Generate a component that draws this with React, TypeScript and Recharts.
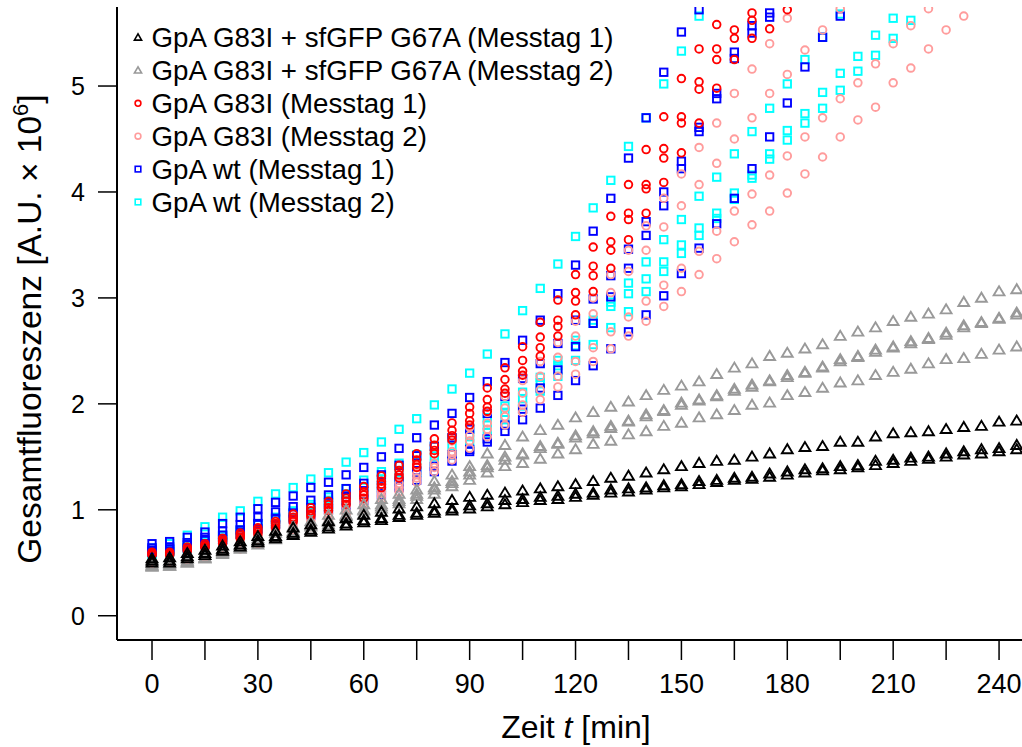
import React from 'react';
import { ScatterChart, Scatter, XAxis, YAxis, Legend } from 'recharts';

const FONT = 'Arial, "Liberation Sans", Helvetica, sans-serif';

// measurement times (min)
const TIME = [
  0, 5, 10, 15, 20, 25, 30, 35, 40, 45, 50, 55, 60, 65, 70, 75, 80, 85, 90, 95,
  100, 105, 110, 115, 120, 125, 130, 135, 140, 145, 150, 155, 160, 165, 170, 175, 180, 185, 190, 195,
  200, 205, 210, 215, 220, 225, 230, 235, 240, 245,
];

const X_TICKS = [0, 15, 30, 45, 60, 75, 90, 105, 120, 135, 150, 165, 180, 195, 210, 225, 240];
const Y_TICKS = [0, 1, 2, 3, 4, 5];

// GpA G83I + sfGFP G67A, Messtag 1 (black)
const K1 = [0.54,0.55,0.59,0.62,0.66,0.70,0.75,0.80,0.83,0.86, 0.89,0.92,0.95,0.98,1.01,1.03,1.06,1.09,1.12,1.14, 1.16,1.18,1.20,1.22,1.24,1.27,1.30,1.32,1.35,1.38, 1.41,1.44,1.46,1.47,1.50,1.53,1.57,1.59,1.60,1.64, 1.64,1.69,1.72,1.73,1.74,1.76,1.78,1.79,1.83,1.84];
const K2 = [0.52,0.52,0.56,0.59,0.63,0.67,0.71,0.75,0.78,0.81, 0.84,0.87,0.90,0.92,0.95,0.97,0.99,1.01,1.04,1.06, 1.09,1.10,1.12,1.13,1.15,1.16,1.19,1.20,1.21,1.23, 1.24,1.27,1.28,1.30,1.31,1.34,1.36,1.38,1.39,1.41, 1.42,1.46,1.47,1.49,1.50,1.53,1.55,1.57,1.58,1.61];
const K3 = [0.50,0.50,0.54,0.57,0.61,0.65,0.69,0.73,0.76,0.79, 0.82,0.85,0.88,0.90,0.93,0.95,0.97,0.99,1.01,1.03, 1.05,1.07,1.09,1.10,1.12,1.14,1.16,1.17,1.19,1.21, 1.22,1.24,1.26,1.28,1.29,1.31,1.33,1.35,1.37,1.38, 1.40,1.42,1.44,1.46,1.48,1.50,1.52,1.53,1.55,1.57];

// GpA G83I + sfGFP G67A, Messtag 2 (grey)
const G1 = [0.48,0.49,0.52,0.57,0.62,0.67,0.73,0.78,0.84,0.89, 0.95,1.00,1.05,1.10,1.15,1.19,1.27,1.33,1.41,1.53, 1.61,1.69,1.75,1.80,1.87,1.92,1.97,2.02,2.08,2.13, 2.17,2.21,2.28,2.34,2.38,2.45,2.48,2.52,2.56,2.64, 2.68,2.72,2.78,2.82,2.85,2.89,2.96,3.00,3.06,3.08];
const G2 = [0.47,0.48,0.51,0.55,0.60,0.65,0.70,0.75,0.80,0.85, 0.90,0.95,1.00,1.05,1.10,1.15,1.21,1.27,1.36,1.42, 1.50,1.53,1.60,1.63,1.70,1.74,1.79,1.84,1.90,1.94, 2.01,2.04,2.08,2.14,2.18,2.22,2.27,2.30,2.35,2.42, 2.45,2.51,2.54,2.59,2.62,2.67,2.74,2.77,2.81,2.86];
const G3 = [0.46,0.47,0.50,0.54,0.58,0.63,0.67,0.72,0.77,0.81, 0.86,0.91,0.96,1.01,1.06,1.10,1.15,1.22,1.28,1.35, 1.41,1.44,1.48,1.53,1.57,1.62,1.65,1.71,1.74,1.79, 1.82,1.87,1.90,1.94,1.99,2.01,2.08,2.11,2.15,2.20, 2.22,2.27,2.30,2.33,2.38,2.42,2.43,2.47,2.51,2.54];
const G4 = [0.47,0.47,0.50,0.54,0.59,0.64,0.69,0.74,0.79,0.84, 0.89,0.94,0.99,1.03,1.08,1.13,1.19,1.25,1.33,1.40, 1.47,1.52,1.58,1.62,1.68,1.72,1.77,1.83,1.88,1.93, 1.99,2.03,2.07,2.12,2.16,2.21,2.25,2.29,2.34,2.40, 2.44,2.49,2.53,2.57,2.61,2.65,2.72,2.76,2.80,2.84];

// GpA G83I, Messtag 1 (red)
const R1 = [0.60,0.60,0.65,0.68,0.73,0.78,0.83,0.89,0.96,1.02, 1.08,1.15,1.22,1.32,1.42,1.53,1.67,1.82,1.97,2.15, 2.34,2.54,2.77,2.98,3.22,3.48,3.77,4.07,4.40,4.71, 5.07,5.35,5.58];
const R2 = [0.59,0.59,0.63,0.66,0.71,0.76,0.81,0.87,0.93,0.99, 1.05,1.11,1.17,1.27,1.37,1.47,1.61,1.75,1.91,2.04, 2.23,2.41,2.63,2.79,3.05,3.30,3.53,3.80,4.07,4.41, 4.71,5.04,5.35,5.53,5.69];
const R3 = [0.58,0.58,0.62,0.65,0.70,0.74,0.79,0.85,0.91,0.96, 1.02,1.08,1.14,1.24,1.33,1.43,1.56,1.70,1.84,1.97, 2.14,2.31,2.53,2.73,2.97,3.21,3.45,3.74,4.03,4.32, 4.65,4.97,5.25,5.45,5.62];
const R4 = [0.57,0.57,0.61,0.64,0.68,0.73,0.77,0.83,0.89,0.94, 0.99,1.05,1.11,1.21,1.30,1.40,1.53,1.66,1.80,1.93, 2.10,2.27,2.45,2.64,2.84,3.06,3.28,3.55,3.80,4.09, 4.37,4.65,4.98,5.25,5.45,5.54,5.72];

// GpA G83I, Messtag 2 (pink)
const P1 = [0.51,0.52,0.55,0.59,0.64,0.69,0.75,0.81,0.87,0.94, 1.01,1.08,1.16,1.24,1.33,1.42,1.53,1.65,1.78,1.92, 2.07,2.22,2.40,2.58,2.78,3.00,3.22,3.45,3.68,3.94, 4.17,4.42,4.65,4.93,5.16,5.40,5.64];
const P2 = [0.50,0.51,0.54,0.58,0.62,0.67,0.72,0.78,0.84,0.90, 0.96,1.03,1.10,1.17,1.25,1.34,1.44,1.55,1.70,1.82, 1.96,2.10,2.26,2.44,2.64,2.85,3.05,3.25,3.45,3.67, 3.87,4.07,4.27,4.50,4.70,4.93,5.11,5.34,5.53,5.73];
const P3 = [0.48,0.49,0.52,0.56,0.60,0.65,0.70,0.75,0.81,0.87, 0.93,0.99,1.06,1.13,1.21,1.30,1.40,1.52,1.65,1.76, 1.88,1.99,2.13,2.26,2.40,2.53,2.68,2.82,2.97,3.12, 3.28,3.44,3.63,3.82,3.98,4.16,4.34,4.52,4.70,4.88, 5.03,5.21,5.40,5.57,5.73];
const P4 = [0.47,0.48,0.51,0.55,0.59,0.63,0.68,0.73,0.79,0.84, 0.90,0.96,1.02,1.09,1.17,1.26,1.36,1.47,1.58,1.69, 1.80,1.92,2.04,2.16,2.28,2.40,2.52,2.64,2.78,2.92, 3.06,3.22,3.37,3.53,3.69,3.82,3.99,4.17,4.33,4.52, 4.68,4.80,5.03,5.17,5.35,5.53,5.66];

// GpA wt, Messtag 1 (blue)
const B1 = [0.68,0.70,0.74,0.79,0.87,0.93,1.01,1.07,1.13,1.21, 1.26,1.33,1.40,1.50,1.58,1.68,1.80,1.91,2.06,2.21, 2.39,2.60,2.79,3.04,3.31,3.63,3.94,4.32,4.70,5.13, 5.51,5.72];
const B2 = [0.64,0.65,0.69,0.74,0.80,0.86,0.93,0.98,1.03,1.09, 1.14,1.20,1.25,1.33,1.42,1.51,1.60,1.68,1.76,1.91, 2.07,2.24,2.38,2.57,2.79,2.99,3.21,3.46,3.72,4.00, 4.29,4.61,4.93,5.32,5.57,5.69];
const B3 = [0.62,0.63,0.67,0.71,0.76,0.81,0.87,0.92,0.97,1.02, 1.07,1.12,1.17,1.23,1.30,1.37,1.41,1.52,1.57,1.67, 1.80,1.95,2.15,2.32,2.54,2.76,3.01,3.28,3.59,3.87, 4.22,4.57,4.88,5.26,5.50,5.65];
const B4 = [0.60,0.61,0.64,0.68,0.72,0.77,0.82,0.86,0.91,0.95, 1.00,1.04,1.09,1.14,1.21,1.28,1.36,1.46,1.55,1.64, 1.74,1.85,1.96,2.08,2.22,2.36,2.52,2.68,2.84,3.02, 3.23,3.47,3.70,3.94,4.22,4.52,4.84,5.18,5.46,5.66];

// GpA wt, Messtag 2 (cyan)
const C1 = [0.64,0.68,0.76,0.84,0.93,0.99,1.08,1.15,1.21,1.29, 1.35,1.45,1.54,1.64,1.76,1.86,1.99,2.14,2.29,2.47, 2.66,2.88,3.09,3.32,3.58,3.85,4.11,4.43,4.70,5.02, 5.33,5.66];
const C2 = [0.60,0.62,0.66,0.71,0.76,0.81,0.87,0.93,0.99,1.05, 1.12,1.20,1.28,1.36,1.44,1.52,1.60,1.68,1.77,1.87, 1.98,2.11,2.25,2.41,2.60,2.79,2.96,3.14,3.34,3.55, 3.74,3.96,4.14,4.36,4.57,4.79,5.02,5.25,5.46,5.68];
const C3 = [0.59,0.61,0.65,0.70,0.75,0.80,0.86,0.91,0.97,1.03, 1.09,1.15,1.22,1.29,1.36,1.43,1.51,1.60,1.70,1.80, 1.92,2.05,2.20,2.36,2.55,2.76,2.92,3.04,3.18,3.34, 3.50,3.66,3.80,3.99,4.16,4.36,4.58,4.74,4.94,5.12, 5.28,5.48,5.64];
const C4 = [0.58,0.60,0.63,0.67,0.72,0.77,0.82,0.87,0.92,0.98, 1.03,1.09,1.15,1.21,1.28,1.35,1.43,1.52,1.62,1.73, 1.85,1.98,2.12,2.26,2.41,2.56,2.72,2.87,3.06,3.25, 3.42,3.59,3.75,3.93,4.13,4.31,4.49,4.65,4.79,4.96, 5.14,5.29,5.45,5.62];

type Kind = 'triangle' | 'circle' | 'square';

// legend order
const SERIES: { name: string; color: string; kind: Kind; reps: number[][] }[] = [
  { name: 'GpA G83I + sfGFP G67A (Messtag 1)', color: '#000000', kind: 'triangle', reps: [K1, K2, K3] },
  { name: 'GpA G83I + sfGFP G67A (Messtag 2)', color: '#999999', kind: 'triangle', reps: [G1, G2, G3, G4] },
  { name: 'GpA G83I (Messtag 1)', color: '#ff0000', kind: 'circle', reps: [R1, R2, R3, R4] },
  { name: 'GpA G83I (Messtag 2)', color: '#ff9c9c', kind: 'circle', reps: [P1, P2, P3, P4] },
  { name: 'GpA wt (Messtag 1)', color: '#0000ff', kind: 'square', reps: [B1, B2, B3, B4] },
  { name: 'GpA wt (Messtag 2)', color: '#00ffff', kind: 'square', reps: [C1, C2, C3, C4] },
];

// last legend entry is drawn first, black ends up on top
const DRAW_ORDER = [...SERIES].reverse();

const toPoints = (vals: number[]) => vals.map((v, i) => ({ t: TIME[i], v }));

function Marker({ kind, x, y, color, big }: { kind: Kind; x: number; y: number; color: string; big: boolean }) {
  const sw = big ? 1.9 : 1.6;
  if (kind === 'triangle') {
    const w = big ? 5.4 : 3.6;
    const h = big ? 9.0 : 6.2;
    const pts = `${x},${y - h * 0.58} ${x - w},${y + h * 0.42} ${x + w},${y + h * 0.42}`;
    return <polygon points={pts} fill="none" stroke={color} strokeWidth={sw} strokeLinejoin="miter" />;
  }
  if (kind === 'circle') {
    return <circle cx={x} cy={y} r={big ? 3.8 : 2.9} fill="none" stroke={color} strokeWidth={sw} />;
  }
  const s = big ? 7.4 : 5.6;
  return <rect x={x - s / 2} y={y - s / 2} width={s} height={s} fill="none" stroke={color} strokeWidth={sw} />;
}

const makeShape = (kind: Kind, color: string) => (props: any) => {
  const { cx, cy } = props;
  if (cx == null || cy == null) return <g />;
  return <Marker kind={kind} x={cx} y={cy} color={color} big />;
};

const LegendBox = () => (
  <svg width={660} height={225} style={{ display: 'block' }}>
    {SERIES.map((s, i) => {
      const cy = 37.5 + i * 32.9;
      return (
        <g key={s.name}>
          <Marker kind={s.kind} x={138} y={cy} color={s.color} big={false} />
          <text x={151.5} y={cy + 9.8} fontSize={27.7} fontFamily={FONT} fill="#000">
            {s.name}
          </text>
        </g>
      );
    })}
  </svg>
);

const XTitle = () => (
  <text x={576} y={738} textAnchor="middle" fontSize={32} fontFamily={FONT} fill="#000">
    Zeit <tspan fontStyle="italic">t</tspan> [min]
  </text>
);

const YTitle = () => (
  <text transform="translate(41,329) rotate(-90)" textAnchor="middle" fontSize={33.5} fontFamily={FONT} fill="#000">
    Gesamtfluoreszenz [A.U. × 10
    <tspan dy={-13} fontSize={22}>6</tspan>
    <tspan dy={13}>]</tspan>
  </text>
);

export default function App() {
  return (
    <div style={{ position: 'absolute', left: 0, top: 0, width: 1022, height: 747, background: '#fff' }}>
      <ScatterChart width={1022} height={747} margin={{ top: 7, right: 0, bottom: 0, left: 0 }}>
        <XAxis
          dataKey="t"
          type="number"
          domain={[-9.92, 246.5]}
          allowDataOverflow
          ticks={X_TICKS}
          interval={0}
          tickFormatter={(v: number) => (v % 30 === 0 ? String(v) : '')}
          height={107}
          tickSize={20}
          tickMargin={14}
          axisLine={{ stroke: '#000', strokeWidth: 2 }}
          tickLine={{ stroke: '#000', strokeWidth: 1.5 }}
          tick={{ fill: '#000', fontSize: 27, fontFamily: FONT }}
          label={<XTitle />}
        />
        <XAxis
          xAxisId="top"
          orientation="top"
          type="number"
          domain={[-9.92, 246.5]}
          height={0}
          tick={false}
          tickLine={false}
          axisLine={{ stroke: '#000', strokeWidth: 2 }}
        />
        <YAxis
          dataKey="v"
          type="number"
          domain={[-0.229, 5.746]}
          allowDataOverflow
          ticks={Y_TICKS}
          interval={0}
          width={117}
          tickSize={19}
          tickMargin={13}
          axisLine={{ stroke: '#000', strokeWidth: 2 }}
          tickLine={{ stroke: '#000', strokeWidth: 1.5 }}
          tick={{ fill: '#000', fontSize: 25, fontFamily: FONT }}
          label={<YTitle />}
        />
        {DRAW_ORDER.map((s) =>
          s.reps.map((rep, j) => (
            <Scatter
              key={`${s.name}-${j}`}
              name={s.name}
              data={toPoints(rep)}
              shape={makeShape(s.kind, s.color)}
              isAnimationActive={false}
              legendType="none"
            />
          ))
        )}
        <Legend
          layout="vertical"
          align="center"
          verticalAlign="middle"
          wrapperStyle={{ left: 0, top: 0, width: 660, height: 225 }}
          content={() => <LegendBox />}
        />
      </ScatterChart>
    </div>
  );
}
